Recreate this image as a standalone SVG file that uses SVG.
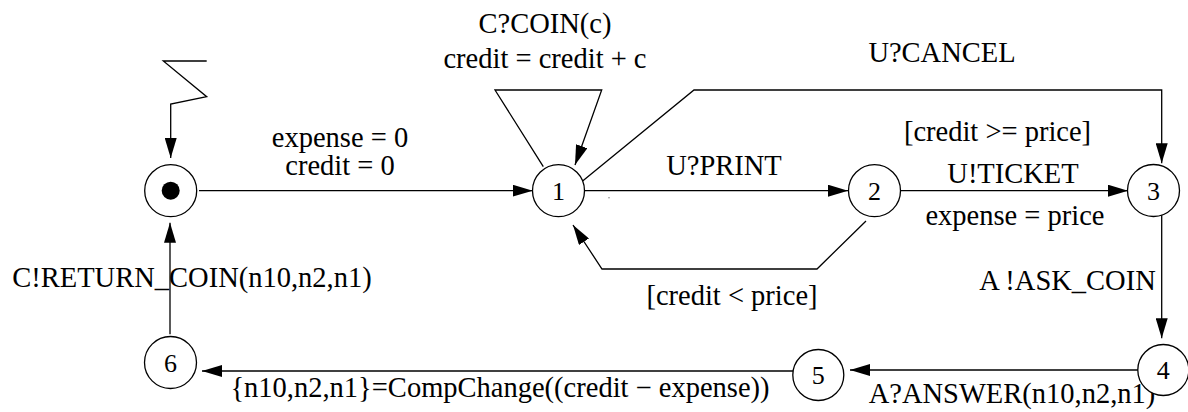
<svg xmlns="http://www.w3.org/2000/svg" width="1188" height="412" viewBox="0 0 1188 412">
<style>
.st{fill:#fff;stroke:#000;stroke-width:1.3}
.num{font-size:26px;text-anchor:middle;fill:#000}
.lbl{font-size:28.5px;text-anchor:middle;fill:#000}
.e{fill:none;stroke:#000;stroke-width:1.3}
</style>
<defs>
<marker id="ah" viewBox="0 0 20 12" refX="20" refY="6" markerWidth="20" markerHeight="12" markerUnits="userSpaceOnUse" orient="auto">
<path d="M0,0 L20,6 L0,12 z" fill="#000"/>
</marker>
</defs>
<rect width="1188" height="412" fill="#fff"/>
<g id="connectors">
<polyline class="e" points="206.7,61 163.3,61 206.7,96.7 170.7,104 170.7,158" marker-end="url(#ah)"/>
<line class="e" x1="199" y1="190.7" x2="532.7" y2="190.7" marker-end="url(#ah)"/>
<polyline class="e" points="543.3,166.7 495,90 601.7,90 575,165" marker-end="url(#ah)"/>
<polyline class="e" points="581.7,181.7 694,90 1161.7,90 1161.7,163.3" marker-end="url(#ah)"/>
<line class="e" x1="585" y1="190.7" x2="848" y2="190.7" marker-end="url(#ah)"/>
<line class="e" x1="901" y1="190.7" x2="1128" y2="190.7" marker-end="url(#ah)"/>
<polyline class="e" points="866,221 817,269 602,269 573,225" marker-end="url(#ah)"/>
<line class="e" x1="1161.7" y1="215" x2="1161.7" y2="338.3" marker-end="url(#ah)"/>
<line class="e" x1="1138" y1="370" x2="850" y2="370" marker-end="url(#ah)"/>
<line class="e" x1="793" y1="371" x2="202" y2="371" marker-end="url(#ah)"/>
<line class="e" x1="170" y1="334.3" x2="170" y2="222.7" marker-end="url(#ah)"/>
<circle cx="609" cy="197.7" r="0.8" fill="#888"/>
</g>
<g id="labels" font-family="'Liberation Serif', 'DejaVu Serif', serif">
<text class="lbl" x="545" y="33">C?COIN(c)</text>
<text class="lbl" x="545" y="68">credit = credit + c</text>
<text class="lbl" x="942" y="62">U?CANCEL</text>
<text class="lbl" x="340" y="147">expense = 0</text>
<text class="lbl" x="340" y="175">credit = 0</text>
<text class="lbl" x="997.5" y="141">[credit &gt;= price]</text>
<text class="lbl" x="724" y="175">U?PRINT</text>
<text class="lbl" x="1013" y="183">U!TICKET</text>
<text class="lbl" x="1015" y="225">expense = price</text>
<text class="lbl" x="732" y="305">[credit &lt; price]</text>
<text class="lbl" x="1067.5" y="290">A !ASK_COIN</text>
<text class="lbl" x="192" y="287">C!RETURN_COIN(n10,n2,n1)</text>
<text class="lbl" x="500" y="397">{n10,n2,n1}=CompChange((credit − expense))</text>
<text class="lbl" x="1012" y="403">A?ANSWER(n10,n2,n1)</text>
</g>
<g id="node-init">
<circle class="st" cx="170.7" cy="190.7" r="26"/>
<circle cx="170.7" cy="190.7" r="9" fill="#000"/>
</g>
<g id="node-1" font-family="'Liberation Serif', 'DejaVu Serif', serif">
<circle class="st" cx="558.5" cy="190.7" r="26"/>
<text class="num" x="558.5" y="199.7">1</text>
</g>
<g id="node-2" font-family="'Liberation Serif', 'DejaVu Serif', serif">
<circle class="st" cx="874.5" cy="190.7" r="26"/>
<text class="num" x="874.5" y="199.7">2</text>
</g>
<g id="node-3" font-family="'Liberation Serif', 'DejaVu Serif', serif">
<circle class="st" cx="1153.5" cy="190.5" r="26"/>
<text class="num" x="1153.5" y="199.5">3</text>
</g>
<g id="node-4" font-family="'Liberation Serif', 'DejaVu Serif', serif">
<circle class="st" cx="1163.3" cy="370" r="25.5"/>
<text class="num" x="1163.3" y="379">4</text>
</g>
<g id="node-5" font-family="'Liberation Serif', 'DejaVu Serif', serif">
<circle class="st" cx="818.3" cy="375" r="25.5"/>
<text class="num" x="818.3" y="384">5</text>
</g>
<g id="node-6" font-family="'Liberation Serif', 'DejaVu Serif', serif">
<circle class="st" cx="170.5" cy="362.5" r="26"/>
<text class="num" x="170.5" y="371.5">6</text>
</g>
</svg>
